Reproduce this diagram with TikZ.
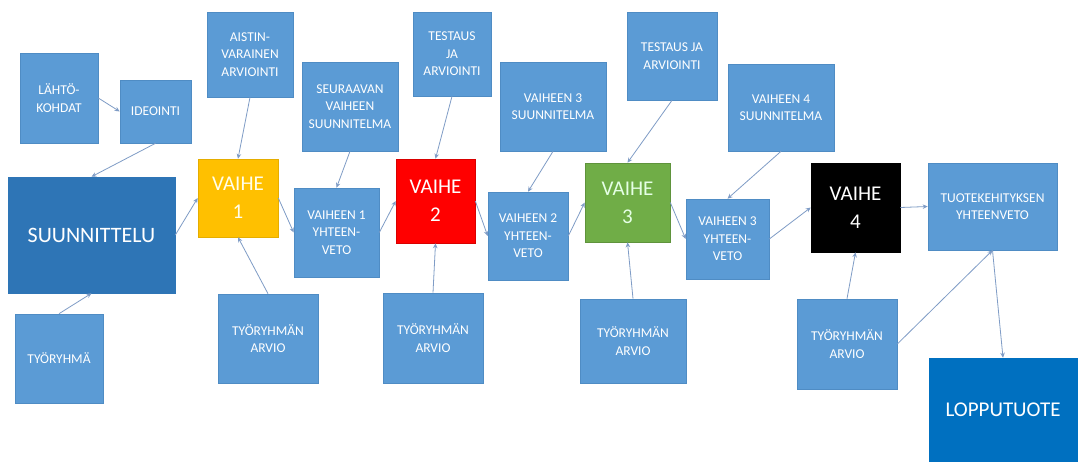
\documentclass[tikz,border=0pt]{standalone}
\usepackage{fontspec}
\setmainfont{Carlito}
\usetikzlibrary{arrows.meta}
\definecolor{lblue}{HTML}{5B9BD5}
\definecolor{lbluedge}{HTML}{4F8CC4}
\definecolor{dblue}{HTML}{2E75B6}
\definecolor{pblue}{HTML}{0070C0}
\definecolor{gold}{HTML}{FFC000}
\definecolor{vred}{HTML}{FF0000}
\definecolor{vgreen}{HTML}{70AD47}
\definecolor{conn}{HTML}{7F9CC6}
\tikzset{
  box/.style={rectangle, inner sep=0pt, align=center, text=white, draw=lbluedge, line width=0.6pt},
  sbox/.style={box, fill=lblue, font=\fontsize{13.5}{17.5}\selectfont},
  bigbox/.style={box, font=\fontsize{22}{28}\selectfont},
  vbox/.style={box, font=\fontsize{21}{28}\selectfont},
  wh/.style 2 args={minimum width=#1pt, minimum height=#2pt},
  link/.style={draw=conn, line width=0.8pt, -{Stealth[length=5pt,width=4.5pt]}}
}
\begin{document}
\begin{tikzpicture}[x=1pt,y=-1pt]
\useasboundingbox[fill=white] (0,0) rectangle (1078,461);
% top boxes
\node[sbox, wh={78}{90}] (lahto) at (59,98) {LÄHTÖ-\\KOHDAT};
\node[sbox, wh={71}{63}] (ideo) at (155.5,111.5) {IDEOINTI};
\node[sbox, wh={86}{85}] (aistin) at (250,54.5) {AISTIN-\\VARAINEN\\ARVIOINTI};
\node[sbox, wh={96}{89}] (seur) at (350,106.5) {SEURAAVAN\\VAIHEEN\\SUUNNITELMA};
\node[sbox, wh={78}{84}] (test1) at (452,54) {TESTAUS\\JA\\ARVIOINTI};
\node[sbox, wh={106}{89}] (v3s) at (553,106.5) {VAIHEEN 3\\SUUNNITELMA};
\node[sbox, wh={90}{88}] (test2) at (672,56) {TESTAUS JA\\ARVIOINTI};
\node[sbox, wh={106}{87}] (v4s) at (781,107.5) {VAIHEEN 4\\SUUNNITELMA};
% main row
\node[bigbox, fill=dblue, draw=dblue, wh={167}{116}] (suun) at (91.5,235) {SUUNNITTELU};
\node[vbox, fill=gold, draw=gold!90!black, text=white!92!yellow, wh={80}{78}] (v1) at (238,198) {VAIHE\\1};
\node[sbox, wh={85}{89}] (y1) at (336.5,232.5) {VAIHEEN 1\\YHTEEN-\\VETO};
\node[vbox, fill=vred, draw=vred!85!black, wh={79}{84}] (v2) at (435.5,201) {VAIHE\\2};
\node[sbox, wh={80}{88}] (y2) at (528,236) {VAIHEEN 2\\YHTEEN-\\VETO};
\node[vbox, fill=vgreen, draw=vgreen!85!black, text=white!90!green, wh={85}{79}] (v3) at (627.5,202.5) {VAIHE\\3};
\node[sbox, wh={83}{80}] (y3) at (727.5,239) {VAIHEEN 3\\YHTEEN-\\VETO};
\node[vbox, fill=black, draw=black, wh={89}{89}] (v4) at (855.5,207.5) {VAIHE\\4};
\node[sbox, wh={129}{87}] (tuot) at (992.5,206.5) {TUOTEKEHITYKSEN\\YHTEENVETO};
% bottom boxes
\node[sbox, wh={88}{89}] (tyor) at (59,358.5) {TYÖRYHMÄ};
\node[sbox, wh={100}{89}] (ta1) at (268,338.5) {TYÖRYHMÄN\\ARVIO};
\node[sbox, wh={100}{90}] (ta2) at (433,338) {TYÖRYHMÄN\\ARVIO};
\node[sbox, wh={106}{84}] (ta3) at (633,341) {TYÖRYHMÄN\\ARVIO};
\node[sbox, wh={100}{90}] (ta4) at (847,344) {TYÖRYHMÄN\\ARVIO};
\node[bigbox, fill=pblue, draw=pblue, font=\fontsize{21}{28}\selectfont, wh={148}{103}] (lopp) at (1003,409.5) {LOPPUTUOTE};
% connectors
\draw[link] (lahto.east) -- (ideo.west);
\draw[link] (ideo.south) -- (suun.north);
\draw[link] (tyor.north) -- (suun.south);
\draw[link] (suun.east) -- (v1.west);
\draw[link] (aistin.south) -- (v1.north);
\draw[link] (ta1.north) -- (v1.south);
\draw[link] (v1.east) -- (y1.west);
\draw[link] (seur.south) -- (y1.north);
\draw[link] (y1.east) -- (v2.west);
\draw[link] (test1.south) -- (v2.north);
\draw[link] (ta2.north) -- (v2.south);
\draw[link] (v2.east) -- (y2.west);
\draw[link] (v3s.south) -- (y2.north);
\draw[link] (y2.east) -- (v3.west);
\draw[link] (test2.south) -- (v3.north);
\draw[link] (ta3.north) -- (v3.south);
\draw[link] (v3.east) -- (y3.west);
\draw[link] (v4s.south) -- (y3.north);
\draw[link] (y3.east) -- (v4.west);
\draw[link] (v4.east) -- (tuot.west);
\draw[link] (ta4.north) -- (v4.south);
\draw[link] (ta4.east) -- (tuot.south);
\draw[link] (tuot.south) -- (lopp.north);
\end{tikzpicture}
\end{document}
